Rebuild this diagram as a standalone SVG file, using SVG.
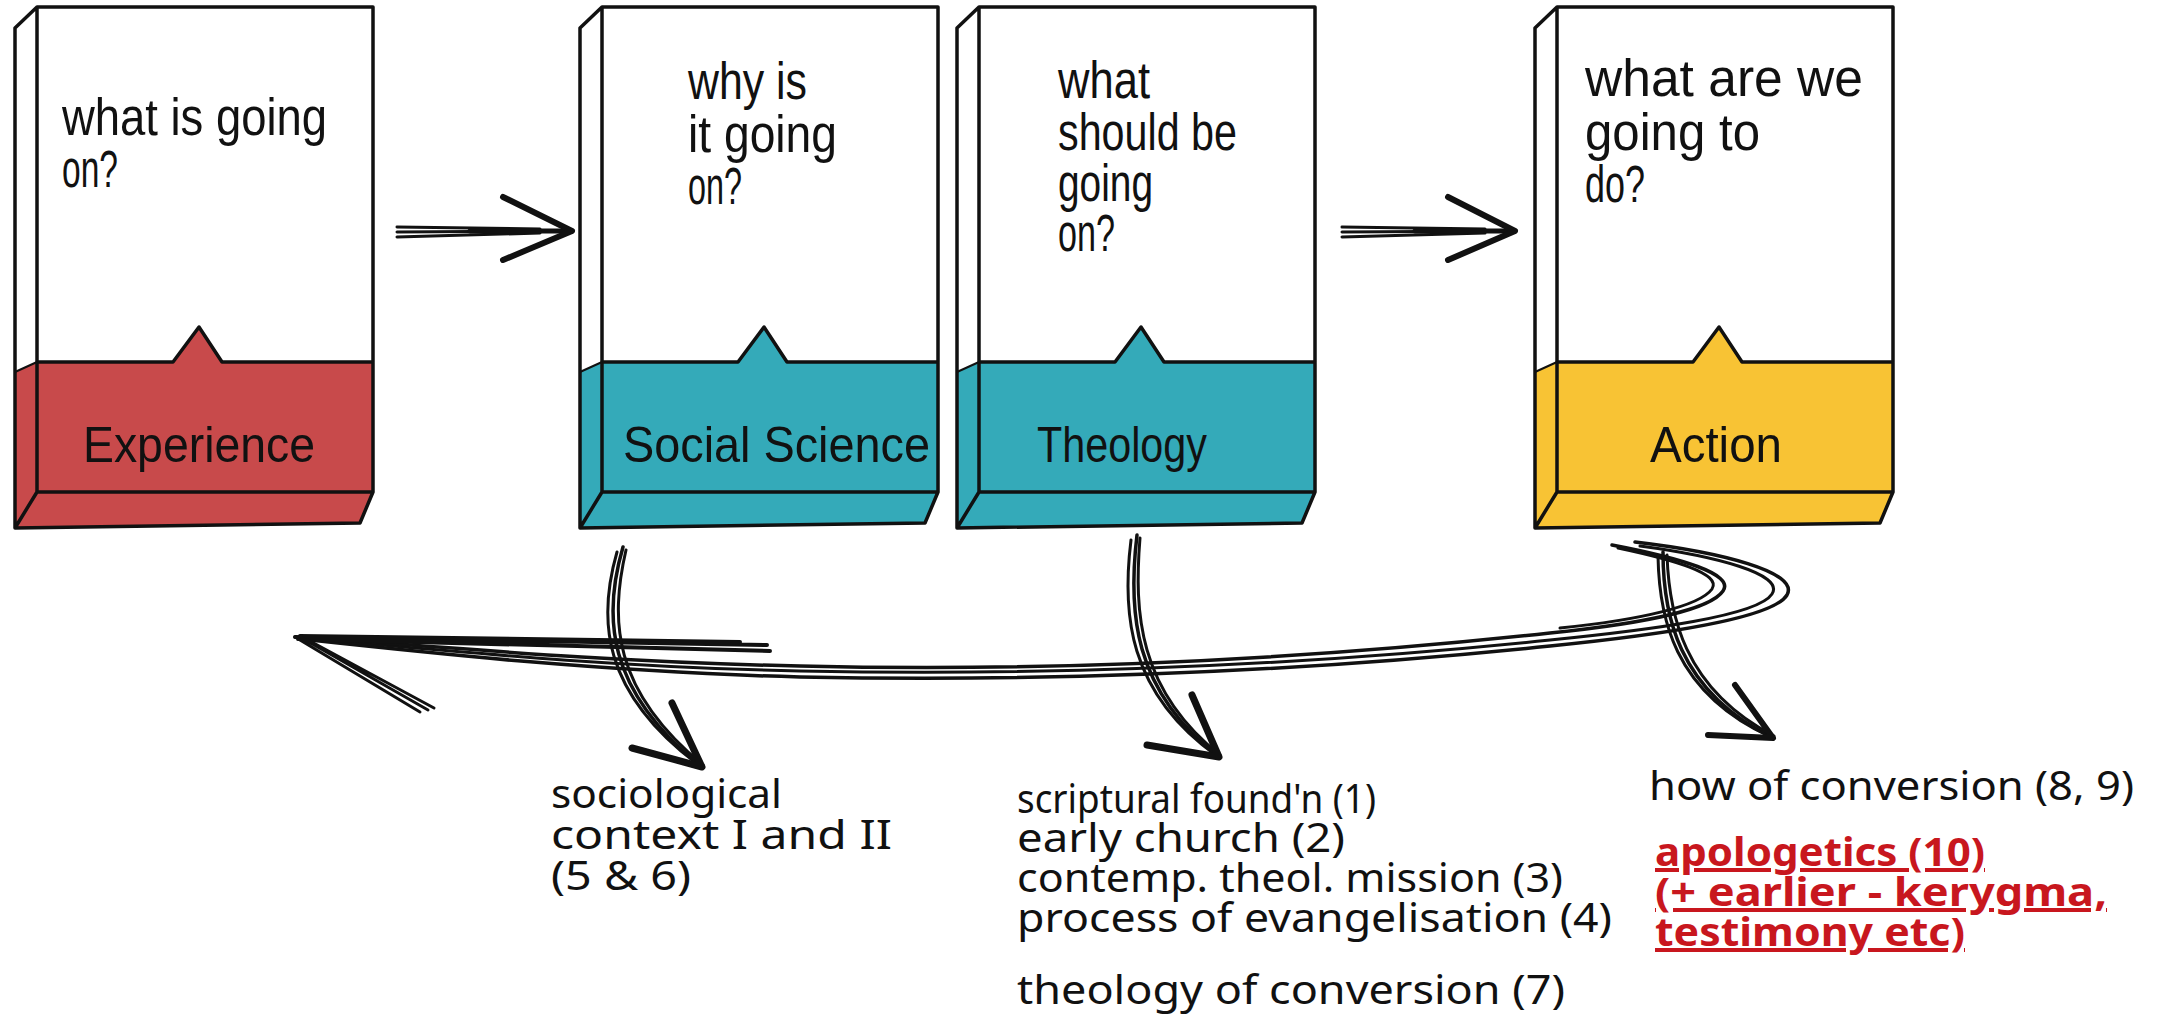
<svg xmlns="http://www.w3.org/2000/svg" width="2157" height="1020" viewBox="0 0 2157 1020">
<style>
.bg{fill:#ffffff}
.out{fill:none;stroke:#111;stroke-width:3.5;stroke-linejoin:round;stroke-linecap:round}
.thin{fill:none;stroke:#111;stroke-width:2;stroke-linecap:round}
.white{fill:#ffffff}
.red{fill:#c84a4b}
.teal{fill:#34aab9}
.yel{fill:#f8c334}
.q{font-family:"Liberation Sans",Arial,sans-serif;font-size:51px;fill:#111}
.lab{font-family:"Liberation Sans",Arial,sans-serif;font-size:50px;fill:#111}
.note{font-family:"Noto Sans","Liberation Sans",sans-serif;font-size:40px;fill:#111}
.rnote{font-family:"Noto Sans","Liberation Sans",sans-serif;font-size:40px;font-weight:bold;fill:#c8171e;text-decoration:underline}
.ink{fill:none;stroke:#111;stroke-linecap:round;stroke-linejoin:round}
</style>
<defs>
<g id="book">
<polygon class="white" points="0,7 336,7 336,362 0,362"/>
<polygon class="white" points="-22,28 0,7 0,362 -22,372"/>
</g>
</defs>
<rect class="bg" x="0" y="0" width="2157" height="1020"/>

<g id="node-experience" transform="translate(37,0)">
<use href="#book"/>
<polygon class="red" points="0,362 136,362 162,327 185,362 336,362 336,492 0,492"/>
<polygon class="red" points="-22,372 0,362 0,492 -22,528"/>
<polygon class="red" points="0,492 336,492 323,523 -22,528"/>
<path class="out" d="M0,7 L336,7 L336,492 L0,492 Z M0,7 L-22,28 L-22,528 L0,492 M336,492 L323,523 L-22,528 M0,362 L136,362 L162,327 L185,362 L336,362"/>
<path class="thin" d="M-22,372 L0,362"/>
</g>
<g id="node-social-science" transform="translate(602,0)">
<use href="#book"/>
<polygon class="teal" points="0,362 136,362 162,327 185,362 336,362 336,492 0,492"/>
<polygon class="teal" points="-22,372 0,362 0,492 -22,528"/>
<polygon class="teal" points="0,492 336,492 323,523 -22,528"/>
<path class="out" d="M0,7 L336,7 L336,492 L0,492 Z M0,7 L-22,28 L-22,528 L0,492 M336,492 L323,523 L-22,528 M0,362 L136,362 L162,327 L185,362 L336,362"/>
<path class="thin" d="M-22,372 L0,362"/>
</g>
<g id="node-theology" transform="translate(979,0)">
<use href="#book"/>
<polygon class="teal" points="0,362 136,362 162,327 185,362 336,362 336,492 0,492"/>
<polygon class="teal" points="-22,372 0,362 0,492 -22,528"/>
<polygon class="teal" points="0,492 336,492 323,523 -22,528"/>
<path class="out" d="M0,7 L336,7 L336,492 L0,492 Z M0,7 L-22,28 L-22,528 L0,492 M336,492 L323,523 L-22,528 M0,362 L136,362 L162,327 L185,362 L336,362"/>
<path class="thin" d="M-22,372 L0,362"/>
</g>
<g id="node-action" transform="translate(1557,0)">
<use href="#book"/>
<polygon class="yel" points="0,362 136,362 162,327 185,362 336,362 336,492 0,492"/>
<polygon class="yel" points="-22,372 0,362 0,492 -22,528"/>
<polygon class="yel" points="0,492 336,492 323,523 -22,528"/>
<path class="out" d="M0,7 L336,7 L336,492 L0,492 Z M0,7 L-22,28 L-22,528 L0,492 M336,492 L323,523 L-22,528 M0,362 L136,362 L162,327 L185,362 L336,362"/>
<path class="thin" d="M-22,372 L0,362"/>
</g>

<g id="node-texts">
<text class="q" x="62" y="135" textLength="265" lengthAdjust="spacingAndGlyphs">what is going</text>
<text class="q" x="62" y="187" textLength="56" lengthAdjust="spacingAndGlyphs">on?</text>
<text class="lab" x="83" y="462" textLength="232" lengthAdjust="spacingAndGlyphs">Experience</text>

<text class="q" x="688" y="99" textLength="119" lengthAdjust="spacingAndGlyphs">why is</text>
<text class="q" x="688" y="152" textLength="149" lengthAdjust="spacingAndGlyphs">it going</text>
<text class="q" x="688" y="204" textLength="54" lengthAdjust="spacingAndGlyphs">on?</text>
<text class="lab" x="623" y="462" textLength="307" lengthAdjust="spacingAndGlyphs">Social Science</text>

<text class="q" x="1058" y="98" textLength="92" lengthAdjust="spacingAndGlyphs">what</text>
<text class="q" x="1058" y="150" textLength="179" lengthAdjust="spacingAndGlyphs">should be</text>
<text class="q" x="1058" y="201" textLength="95" lengthAdjust="spacingAndGlyphs">going</text>
<text class="q" x="1058" y="251" textLength="57" lengthAdjust="spacingAndGlyphs">on?</text>
<text class="lab" x="1037" y="462" textLength="170" lengthAdjust="spacingAndGlyphs">Theology</text>

<text class="q" x="1585" y="96" textLength="278" lengthAdjust="spacingAndGlyphs">what are we</text>
<text class="q" x="1585" y="150" textLength="175" lengthAdjust="spacingAndGlyphs">going to</text>
<text class="q" x="1585" y="202" textLength="60" lengthAdjust="spacingAndGlyphs">do?</text>
<text class="lab" x="1650" y="462" textLength="132" lengthAdjust="spacingAndGlyphs">Action</text>
</g>

<g id="connectors">
<path class="ink" stroke-width="3" d="M397,227 L540,229 M397,232 L560,231 M397,237 L540,233"/>
<path class="ink" stroke-width="5" d="M470,231 L572,231"/>
<path class="ink" stroke-width="6" d="M503,197 L572,231 L503,260"/>
<path class="ink" stroke-width="3" d="M1342,227 L1485,229 M1342,232 L1505,231 M1342,237 L1485,233"/>
<path class="ink" stroke-width="5" d="M1415,231 L1515,231"/>
<path class="ink" stroke-width="6" d="M1448,197 L1515,231 L1448,260"/>

<path class="ink" stroke-width="3.5" d="M1635,542 C1720,552 1800,572 1787,595 C1772,620 1650,636 1550,646 C1300,672 1050,682 800,677 C600,672 420,652 300,639"/>
<path class="ink" stroke-width="3" d="M1640,546 C1715,556 1785,574 1772,594 C1758,616 1650,630 1550,640 C1300,666 1050,676 800,671 C600,667 420,648 300,638"/>
<path class="ink" stroke-width="3.5" d="M1612,545 C1680,558 1735,574 1723,591 C1710,610 1640,624 1550,633 C1300,660 1050,672 800,666 C600,662 420,645 300,637"/>
<path class="ink" stroke-width="3" d="M1618,548 C1675,560 1722,574 1712,589 C1700,606 1640,620 1560,628"/>
<path class="ink" stroke-width="4" d="M295,637 L767,645 M298,639 L770,651 M300,636 L740,642"/>
<path class="ink" stroke-width="3" d="M295,637 L420,712 M302,638 L428,710 M308,640 L434,708"/>

<path class="ink" stroke-width="3.5" d="M623,547 C603,615 605,690 702,767"/>
<path class="ink" stroke-width="3" d="M617,552 C598,618 600,692 700,766"/>
<path class="ink" stroke-width="3" d="M626,550 C610,620 612,690 703,765"/>
<path class="ink" stroke-width="7" d="M672,703 L702,767 L632,748"/>

<path class="ink" stroke-width="3.5" d="M1137,535 C1128,610 1132,690 1219,757"/>
<path class="ink" stroke-width="3" d="M1131,540 C1122,612 1127,692 1217,756"/>
<path class="ink" stroke-width="3" d="M1140,538 C1134,612 1138,690 1220,755"/>
<path class="ink" stroke-width="7" d="M1192,695 L1219,757 L1147,745"/>

<path class="ink" stroke-width="3.5" d="M1663,552 C1663,612 1676,690 1773,738"/>
<path class="ink" stroke-width="3" d="M1658,556 C1659,615 1672,692 1771,737"/>
<path class="ink" stroke-width="3" d="M1667,555 C1669,612 1682,688 1774,736"/>
<path class="ink" stroke-width="6" d="M1735,685 L1773,738 L1708,735"/>
</g>

<g id="notes">
<text class="note" x="551" y="808" textLength="231" lengthAdjust="spacingAndGlyphs">sociological</text>
<text class="note" x="551" y="849" textLength="341" lengthAdjust="spacingAndGlyphs">context I and II</text>
<text class="note" x="551" y="890" textLength="140" lengthAdjust="spacingAndGlyphs">(5 &amp; 6)</text>

<text class="note" x="1017" y="813" textLength="359" lengthAdjust="spacingAndGlyphs">scriptural found'n (1)</text>
<text class="note" x="1017" y="852" textLength="328" lengthAdjust="spacingAndGlyphs">early church (2)</text>
<text class="note" x="1017" y="892" textLength="546" lengthAdjust="spacingAndGlyphs">contemp. theol. mission (3)</text>
<text class="note" x="1017" y="932" textLength="595" lengthAdjust="spacingAndGlyphs">process of evangelisation (4)</text>
<text class="note" x="1017" y="1004" textLength="548" lengthAdjust="spacingAndGlyphs">theology of conversion (7)</text>

<text class="note" x="1649" y="800" textLength="485" lengthAdjust="spacingAndGlyphs">how of conversion (8, 9)</text>
<text class="rnote" x="1655" y="866" textLength="330" lengthAdjust="spacingAndGlyphs">apologetics (10)</text>
<text class="rnote" x="1655" y="906" textLength="452" lengthAdjust="spacingAndGlyphs">(+ earlier - kerygma,</text>
<text class="rnote" x="1655" y="946" textLength="310" lengthAdjust="spacingAndGlyphs">testimony etc)</text>
</g>
</svg>
